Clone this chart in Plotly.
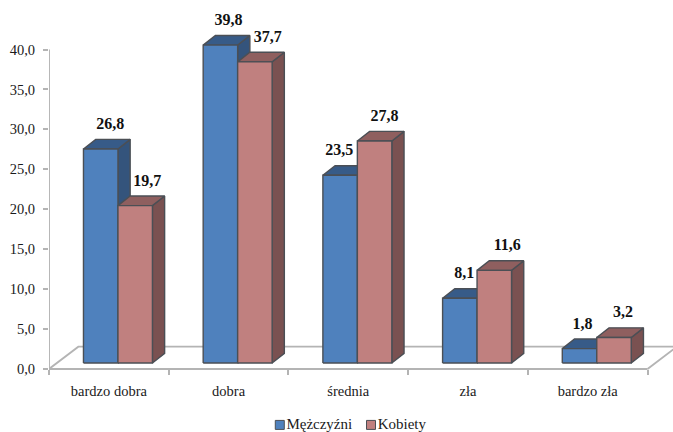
import plotly.graph_objects as go

categories = ["bardzo dobra", "dobra", "średnia", "zła", "bardzo zła"]
men = [26.8, 39.8, 23.5, 8.1, 1.8]
women = [19.7, 37.7, 27.8, 11.6, 3.2]
series_names = ["Mężczyźni", "Kobiety"]
y_ticks = [0, 5, 10, 15, 20, 25, 30, 35, 40]

# 3D projection parameters, in axis units
BAR_GAP = 0.288
BAR_W = 0.288
BASE = 0.75
DX = 0.102
DY = 1.2
FLOOR_DX = 0.245
FLOOR_DY = 2.8
LABEL_UP = 1.8
EDGE = "#4b4f55"
AXIS = "#b4b4b4"
FONT = "Liberation Serif"
TEXT = "#1a1a1a"
X_MAX = (673 - 48.5) / 119.8
Y_MAX = 369 / 7.9875
Y_MIN = -(432 - 369) / 7.9875

# horizontal nudges of the value labels, in category units
men_label_nudge = [0.08, 0.067, -0.008, 0.038, 0.025]
women_label_nudge = [0.10, 0.108, 0.083, 0.108, 0.075]


def polygons(values, slot, face):
    xs, ys = [], []
    for i, v in enumerate(values):
        x0 = i + BAR_GAP + slot * BAR_W
        x1 = x0 + BAR_W
        b, t = BASE, BASE + v
        if face == "front":
            px = [x0, x1, x1, x0, x0]
            py = [b, b, t, t, b]
        elif face == "top":
            px = [x0, x1, x1 + DX, x0 + DX, x0]
            py = [t, t, t + DY, t + DY, t]
        else:
            px = [x1, x1 + DX, x1 + DX, x1, x1]
            py = [b, b + DY, t + DY, t, b]
        xs += px + [None]
        ys += py + [None]
    return xs, ys


def face_trace(values, slot, face, color, name):
    xs, ys = polygons(values, slot, face)
    return go.Scatter(
        x=xs, y=ys, mode="lines", fill="toself", fillcolor=color, name=name,
        line=dict(color=EDGE, width=1.4), showlegend=False, cliponaxis=False,
        hoverinfo="skip",
    )


fig = go.Figure()

n = len(categories)
# axis lines and floor of the 3D plot
fig.add_trace(go.Scatter(
    x=[0, 0, n, None, 0, FLOOR_DX, n + FLOOR_DX, n],
    y=[40, 0, 0, None, 0, FLOOR_DY, FLOOR_DY, 0],
    mode="lines", line=dict(color=AXIS, width=1.9), showlegend=False,
    cliponaxis=False, hoverinfo="skip",
))

palette = [
    (men, 0, "#4f81bd", "#375b88", "#34547c", series_names[0]),
    (women, 1, "#c0807f", "#8f5f5f", "#7a5151", series_names[1]),
]
for vals, slot, front, top, side, name in palette:
    fig.add_trace(face_trace(vals, slot, "side", side, name))
    fig.add_trace(face_trace(vals, slot, "top", top, name))
    fig.add_trace(face_trace(vals, slot, "front", front, name))

for (vals, slot, *_), nudges in zip(palette, [men_label_nudge, women_label_nudge]):
    fig.add_trace(go.Scatter(
        x=[i + BAR_GAP + (slot + 0.5) * BAR_W + nudges[i] for i in range(n)],
        y=[v + BASE + DY + LABEL_UP for v in vals],
        mode="text",
        text=[f"{v:.1f}".replace(".", ",") for v in vals],
        textfont=dict(family=FONT, size=16, color="#111111"),
        texttemplate="<b>%{text}</b>",
        showlegend=False, cliponaxis=False, hoverinfo="skip",
    ))

# legend row below the axis
legend_x = [1.928, 2.69]
for (_, _, front, _, _, name), lx in zip(palette, legend_x):
    fig.add_trace(go.Scatter(
        x=[lx], y=[-7.0], mode="markers+text", text=[name],
        textposition="middle right",
        textfont=dict(family=FONT, size=15, color=TEXT),
        marker=dict(symbol="square", size=9, color=front, line=dict(color=EDGE, width=1)),
        name=name, showlegend=False, cliponaxis=False,
    ))

fig.update_layout(
    width=673, height=432, autosize=False,
    margin=dict(l=48.5, r=0, t=0, b=0, pad=0),
    paper_bgcolor="white", plot_bgcolor="white",
    separators=",.",
    showlegend=False,
    font=dict(family=FONT, color=TEXT),
)
fig.update_xaxes(
    range=[0, X_MAX], tickmode="array", anchor="free", position=63 / 432,
    tickvals=[i + 0.5 for i in range(n)], ticktext=categories,
    ticks="", ticklabelstandoff=11, tickfont=dict(family=FONT, size=14.5, color=TEXT),
    showgrid=False, zeroline=False, showline=False,
    minor=dict(tickmode="array", tickvals=list(range(n + 1)), ticks="outside",
               ticklen=5, tickcolor=AXIS, tickwidth=1.5, showgrid=False),
)
fig.update_yaxes(
    range=[Y_MIN, Y_MAX], tickmode="array", tickvals=y_ticks, tickformat=".1f",
    ticks="outside", ticklen=5, tickcolor=AXIS, tickwidth=1.5, ticklabelstandoff=5,
    tickfont=dict(family=FONT, size=14.5, color=TEXT),
    showgrid=False, zeroline=False, showline=False,
)

fig.write_html(
    "out.html",
    config={"displayModeBar": False},
    post_script="document.body.style.margin='0';window.dispatchEvent(new Event('resize'));",
)
